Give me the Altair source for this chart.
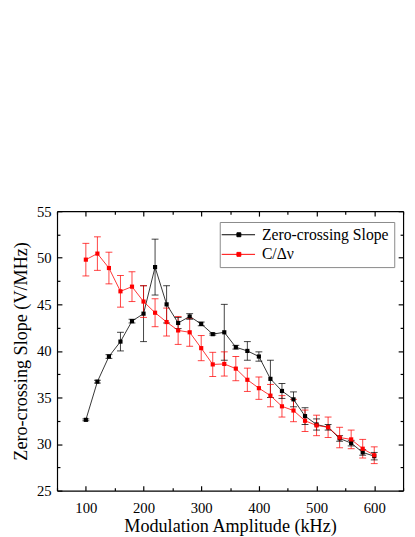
import altair as alt
import pandas as pd

amp = list(range(100, 601, 20))
zc = [32.6, 36.7, 39.4, 41.0, 43.2, 44.0, 49.0, 45.0, 43.0, 43.7, 42.9, 41.8, 42.0,
      40.4, 40.0, 39.4, 37.0, 35.7, 34.8, 33.0, 32.1, 31.8, 30.6, 30.1, 29.1, 28.7]
zc_err = [0.1, 0.15, 0.2, 1.0, 0.2, 3.0, 3.0, 2.0, 0.6, 0.3, 0.2, 0.1, 3.0,
          0.2, 1.0, 0.5, 2.0, 0.8, 0.8, 0.9, 0.6, 0.3, 0.3, 0.3, 0.3, 0.4]
cd = [49.8, 50.45, 48.9, 46.4, 46.9, 45.3, 44.1, 43.1, 42.2, 42.0, 40.3, 38.55, 38.6,
      38.1, 36.9, 36.0, 35.2, 34.05, 33.6, 32.5, 32.0, 31.8, 30.7, 30.5, 29.5, 28.8]
cd_err = [1.75, 1.8, 1.7, 1.7, 1.6, 1.7, 1.5, 1.5, 1.5, 1.5, 1.35, 1.3, 1.3,
          1.3, 1.25, 1.2, 1.2, 1.15, 1.2, 1.15, 1.1, 1.1, 1.1, 1.0, 1.0, 0.9]
series_names = ["Zero-crossing Slope", "C/\u0394\u03bd"]
series_colors = ["black", "red"]
x_major = list(range(100, 601, 100))
x_minor = list(range(50, 651, 100))
y_major = list(range(25, 56, 5))
y_minor = [27.5 + 5 * i for i in range(6)]

df = pd.concat([
    pd.DataFrame({"amp": amp, "val": zc, "err": zc_err, "series": series_names[0]}),
    pd.DataFrame({"amp": amp, "val": cd, "err": cd_err, "series": series_names[1]}),
])

FONT = "Liberation Serif"
W, H = 353, 285
color_scale = alt.Scale(domain=series_names, range=series_colors)
xs = alt.Scale(domain=[50, 650], nice=False, zero=False)
ys = alt.Scale(domain=[25, 55], nice=False, zero=False)


def tick_axis(orient, values, size, offset, domain=False):
    return alt.Axis(
        orient=orient, values=values, labels=False, title=None, grid=False,
        ticks=True, tickSize=size, tickColor="black", tickWidth=1.2,
        domain=domain, domainColor="black", domainWidth=1.2, offset=offset,
    )


main_x = alt.Axis(
    orient="bottom", values=x_major, ticks=False, grid=False,
    domainColor="black", domainWidth=1.2,
    title="Modulation Amplitude (kHz)",
    labelFont=FONT, labelFontSize=15, labelColor="black", labelPadding=10,
    titleFont=FONT, titleFontSize=18.5, titleFontWeight="normal", titleColor="black",
    titlePadding=2,
)
main_y = alt.Axis(
    orient="left", values=y_major, ticks=False, grid=False,
    domainColor="black", domainWidth=1.2,
    title="Zero-crossing Slope (V/MHz)",
    labelFont=FONT, labelFontSize=15, labelColor="black", labelPadding=6,
    titleFont=FONT, titleFontSize=18.5, titleFontWeight="normal", titleColor="black",
    titlePadding=6,
)

legend_path = "M-2.2,0H4.6M0.9,-0.4H1.7V0.4H0.9Z"
leg = alt.Legend(
    title=None, orient="none", legendX=166, legendY=11,
    symbolType=legend_path, symbolSize=100, symbolStrokeWidth=1,
    labelFont=FONT, labelFontSize=16, labelColor="black", labelOffset=22,
    labelLimit=400, strokeColor="#888", fillColor="white", padding=5,
    rowPadding=4, symbolOpacity=1,
)
col = alt.Color("series:N", scale=color_scale, legend=leg)

base = alt.Chart(df)


def ghost(xaxis, yaxis):
    return base.mark_point(opacity=0).encode(
        x=alt.X("amp:Q", scale=xs, axis=xaxis),
        y=alt.Y("val:Q", scale=ys, axis=yaxis),
    )


# inward ticks: axes of the opposite orient shifted onto the far edge
gA = ghost(tick_axis("top", x_major, 5, -H), tick_axis("right", y_major, 5, -W))
gC = ghost(tick_axis("bottom", x_major, 5, -H, True), tick_axis("left", y_major, 5, -W, True))
gD = ghost(tick_axis("top", x_minor, 3, -H), tick_axis("right", y_minor, 3, -W))
gE = ghost(tick_axis("bottom", x_minor, 3, -H), tick_axis("left", y_minor, 3, -W))

err = base.transform_calculate(
    lo="datum.val - datum.err", hi="datum.val + datum.err"
)
rules = err.mark_rule(strokeWidth=1, opacity=0.75).encode(
    x=alt.X("amp:Q", scale=xs, axis=None),
    y=alt.Y("lo:Q", scale=ys, axis=None),
    y2="hi:Q",
    color=col,
)
caps_lo = err.mark_tick(orient="horizontal", size=7, thickness=1, opacity=0.75).encode(
    x=alt.X("amp:Q", axis=None), y=alt.Y("lo:Q", axis=None), color=col,
)
caps_hi = err.mark_tick(orient="horizontal", size=7, thickness=1, opacity=0.75).encode(
    x=alt.X("amp:Q", axis=None), y=alt.Y("hi:Q", axis=None), color=col,
)
lines = base.mark_line(strokeWidth=1, opacity=0.8).encode(
    x=alt.X("amp:Q", axis=None), y=alt.Y("val:Q", axis=None), color=col,
    order="amp:Q",
)
points = base.mark_point(filled=True, shape="square", size=18, opacity=1).encode(
    x=alt.X("amp:Q", scale=xs, axis=main_x),
    y=alt.Y("val:Q", scale=ys, axis=main_y),
    color=col,
)

chart = alt.layer(gA, gC, gD, gE, rules, caps_lo, caps_hi, lines, points).properties(
    width=W, height=H,
    autosize=alt.AutoSizeParams(type="none"),
    padding={"left": 50, "top": 202, "right": 4, "bottom": 41},
).configure(font=FONT).configure_view(stroke=None)

chart.save("out.html", embed_options={"renderer": "svg", "actions": False})
